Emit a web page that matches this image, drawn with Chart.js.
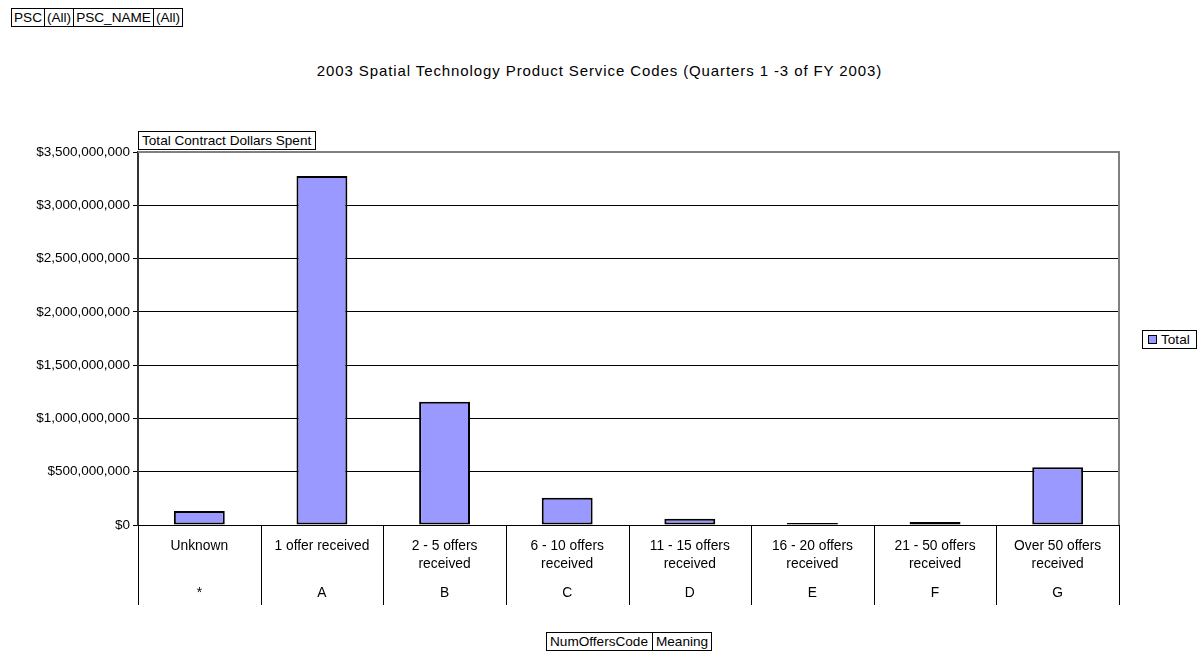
<!DOCTYPE html>
<html>
<head>
<meta charset="utf-8">
<script src="https://cdn.jsdelivr.net/npm/chart.js@4/dist/chart.umd.min.js"></script>
<style>
  html, body { margin: 0; padding: 0; background: #fff; }
  body { width: 1199px; height: 653px; position: relative; overflow: hidden; font-family: "Liberation Sans", Arial, sans-serif; }
  #chart { position: absolute; left: 0; top: 0; }
  .box { position: absolute; border: 1px solid #000; background: #fff; font-size: 13.6px; line-height: 17px; padding: 0 2px; color: #000; white-space: nowrap; }
  .row { position: absolute; display: flex; }
  .row .box { position: static; margin-left: -1px; }
  .row .box:first-child { margin-left: 0; }
  #title { position: absolute; left: 0; width: 1199px; top: 62px; text-align: center; font-size: 15px; letter-spacing: 0.9px; }
  .swatch { display: inline-block; width: 7px; height: 7px; background: #9999ff; border: 1px solid #000; margin-right: 4px; vertical-align: 0px; }
</style>
</head>
<body>
<div class="row" style="left:11px; top:8px;">
  <div class="box">PSC</div><div class="box">(All)</div><div class="box">PSC_NAME</div><div class="box">(All)</div>
</div>
<div id="title">2003 Spatial Technology Product Service Codes (Quarters 1 -3 of FY 2003)</div>
<div class="box" style="left:138px; top:131px; padding: 0 4px 0 3px;">Total Contract Dollars Spent</div>
<div class="box" style="left:1142px; top:330px; padding: 0 6px 0 5px;"><span class="swatch"></span>Total</div>
<div class="row" style="left:546px; top:632px;">
  <div class="box" style="padding: 0 4px 0 3px;">NumOffersCode</div><div class="box" style="padding: 0 3px;">Meaning</div>
</div>
<canvas id="chart" width="1199" height="653"></canvas>
<script>
// categories (two-level axis) and values
const meanings = [
  "Unknown",
  "1 offer received",
  ["2 - 5 offers", "received"],
  ["6 - 10 offers", "received"],
  ["11 - 15 offers", "received"],
  ["16 - 20 offers", "received"],
  ["21 - 50 offers", "received"],
  ["Over 50 offers", "received"],
];
const codes = ["*", "A", "B", "C", "D", "E", "F", "G"];
const totals = [131000000, 3275000000, 1157000000, 256000000, 58000000, 18000000, 27000000, 541000000];

const yTicks = [0, 500000000, 1000000000, 1500000000, 2000000000, 2500000000, 3000000000, 3500000000];

const fmtMoney = (v) => "$" + Number(v).toLocaleString("en-US");

// separators between categories + grey plot frame (top / right)
const frameAndSeparators = {
  id: "frameAndSeparators",
  afterDraw(chart) {
    const { ctx, chartArea } = chart;
    const x = chart.scales.x;
    const x2 = chart.scales.x2;
    const half = (x.getPixelForValue(1) - x.getPixelForValue(0)) / 2;
    ctx.save();
    ctx.strokeStyle = "#000";
    ctx.lineWidth = 1;
    for (let i = 0; i <= codes.length; i++) {
      const px = Math.round(x.getPixelForValue(0) - half + i * half * 2) + 0.5;
      ctx.beginPath();
      ctx.moveTo(px, chartArea.bottom);
      ctx.lineTo(px, x2.bottom);
      ctx.stroke();
    }
    ctx.strokeStyle = "#808080";
    ctx.lineWidth = 2;
    ctx.beginPath();
    ctx.moveTo(chartArea.left, chartArea.top);
    ctx.lineTo(chartArea.right, chartArea.top);
    ctx.lineTo(chartArea.right, chartArea.bottom);
    ctx.stroke();
    ctx.restore();
  },
};

const labelFont = { family: "Liberation Sans, Arial, sans-serif", size: 13.8, lineHeight: 1.3 };

new Chart(document.getElementById("chart"), {
  type: "bar",
  data: {
    labels: meanings,
    datasets: [{
      label: "Total",
      data: totals,
      backgroundColor: "#9999ff",
      borderColor: "#000",
      borderWidth: 2,
      borderSkipped: false,
      categoryPercentage: 1,
      barPercentage: 0.415,
    }],
  },
  options: {
    responsive: false,
    animation: false,
    layout: { padding: { left: 0, top: 152, right: 80, bottom: 48 } },
    plugins: {
      legend: { display: false },
      tooltip: { enabled: false },
    },
    scales: {
      x: {
        type: "category",
        weight: 0,
        offset: true,
        grid: { display: false, drawTicks: false },
        border: { display: false },
        ticks: { maxRotation: 0, autoSkip: false, padding: 12, color: "#000", font: labelFont },
        afterFit: (scale) => { scale.height = 55; },
      },
      x2: {
        type: "category",
        position: "bottom",
        labels: codes,
        weight: 1,
        offset: true,
        grid: { display: false, drawTicks: false },
        border: { display: false },
        ticks: { maxRotation: 0, autoSkip: false, padding: 4, color: "#000", font: labelFont },
        afterFit: (scale) => { scale.height = 25; },
      },
      y: {
        min: 0,
        max: 3500000000,
        afterBuildTicks: (scale) => { scale.ticks = yTicks.map((v) => ({ value: v })); },
        grid: { color: "#000", lineWidth: 1, tickLength: 5 },
        border: { color: "#333", width: 2 },
        ticks: {
          padding: 3,
          color: "#000",
          font: { family: "Liberation Sans, Arial, sans-serif", size: 13.5 },
          callback: (v) => fmtMoney(v),
        },
        afterFit: (scale) => { scale.width = 138; },
      },
    },
  },
  plugins: [frameAndSeparators],
});
</script>
</body>
</html>
